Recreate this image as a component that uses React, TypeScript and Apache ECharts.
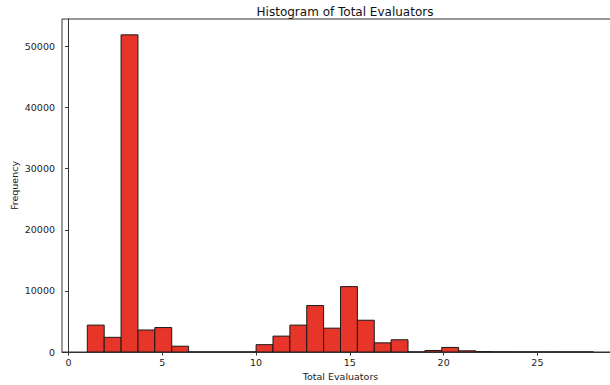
import React, { useEffect, useRef } from "react";
import * as echarts from "echarts";

// Histogram definition (30 bins between min and max value)
const BIN_MIN = 1;
const BIN_MAX = 28;
const BIN_COUNT = 30;

// Counts per bin
const COUNTS = [
  4400, 2400, 51900, 3600, 4000, 950, 0, 0, 0, 0,
  1200, 2600, 4400, 7600, 3900, 10700, 5200, 1500, 2000, 0,
  250, 750, 200, 60, 15, 5, 3, 1, 1, 1,
];

const X_TICKS = [0, 5, 10, 15, 20, 25];
const Y_TICKS = [0, 10000, 20000, 30000, 40000, 50000];

const TITLE = "Histogram of Total Evaluators";
const X_NAME = "Total Evaluators";
const Y_NAME = "Frequency";

const FONT = "DejaVu Sans";

export default function App() {
  const ref = useRef<HTMLDivElement>(null);
  useEffect(() => {
    document.body.style.margin = "0";
    document.body.style.overflow = "hidden";
    const chart = echarts.init(ref.current!, null, { renderer: "svg" });
    const width = (BIN_MAX - BIN_MIN) / BIN_COUNT;
    const data = COUNTS.map((c, i) => [BIN_MIN + i * width, BIN_MIN + (i + 1) * width, c]);
    const maxCount = Math.max(...COUNTS);
    const xPad = 0.05 * (BIN_MAX - BIN_MIN);
    chart.setOption({
      animation: false,
      backgroundColor: "#ffffff",
      title: {
        text: TITLE,
        left: 340,
        textAlign: "center",
        top: 1,
        textStyle: { fontFamily: FONT, fontSize: 12, fontWeight: "normal", color: "#111" },
      },
      grid: {
        left: 62,
        top: 19,
        right: 1,
        bottom: 33,
        containLabel: false,
        outerBoundsMode: "none",
        show: true,
        borderColor: "#333",
        borderWidth: 1,
        backgroundColor: "transparent",
      },
      xAxis: {
        type: "value",
        min: BIN_MIN - xPad,
        max: BIN_MAX + xPad,
        splitLine: { show: false },
        axisLine: { show: true, lineStyle: { color: "#333", width: 1 } },
        axisTick: { show: true, inside: false, length: 3.5, customValues: X_TICKS, lineStyle: { color: "#333" } },
        axisLabel: {
          customValues: X_TICKS,
          formatter: (v: number) => String(v),
          margin: 5,
          fontFamily: FONT,
          fontSize: 9.5,
          color: "#222",
        },
        name: X_NAME,
        nameLocation: "middle",
        nameGap: 19,
        nameMoveOverlap: false,
        nameTextStyle: { fontFamily: FONT, fontSize: 9.5, color: "#222" },
      },
      yAxis: {
        type: "value",
        min: 0,
        max: maxCount * 1.05,
        splitLine: { show: false },
        axisLine: { show: true, lineStyle: { color: "#333", width: 1 } },
        axisTick: { show: true, inside: false, length: 3.5, customValues: Y_TICKS, lineStyle: { color: "#333" } },
        axisLabel: {
          customValues: Y_TICKS,
          formatter: (v: number) => String(v),
          margin: 7,
          fontFamily: FONT,
          fontSize: 9.5,
          color: "#222",
        },
        name: Y_NAME,
        nameLocation: "middle",
        nameGap: 43,
        nameMoveOverlap: false,
        nameTextStyle: { fontFamily: FONT, fontSize: 9.5, color: "#222" },
      },
      series: [
        {
          type: "custom",
          data,
          encode: { x: [0, 1], y: 2 },
          clip: true,
          renderItem: (params: any, api: any) => {
            const x0 = api.value(0);
            const x1 = api.value(1);
            const y = api.value(2);
            const pt = api.coord([x0, y]);
            const pb = api.coord([x1, 0]);
            return {
              type: "polygon",
              shape: {
                points: [
                  [pt[0], pb[1]],
                  [pt[0], pt[1]],
                  [pb[0], pt[1]],
                  [pb[0], pb[1]],
                ],
              },
              style: { fill: "#e8352a", stroke: "#1a1a1a", lineWidth: 1 },
            };
          },
        },
      ],
    });
    return () => chart.dispose();
  }, []);
  return (
    <div style={{ width: 610, height: 385, overflow: "hidden", position: "relative" }}>
      <div ref={ref} style={{ width: 620, height: 385 }} />
    </div>
  );
}
